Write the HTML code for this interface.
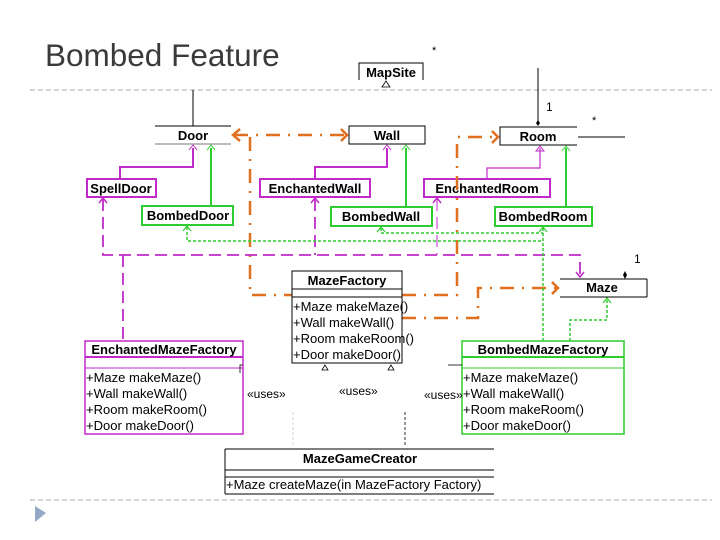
<!DOCTYPE html>
<html><head><meta charset="utf-8"><style>
html,body{margin:0;padding:0;background:#fff;}
svg{display:block;font-family:"Liberation Sans",Arial,sans-serif;}
.b{font-weight:bold;font-size:13px;}
.m{font-size:13px;}
</style></head><body>
<svg width="720" height="540" viewBox="0 0 720 540">
<text x="45" y="66" font-size="31.5" fill="#3a3a3a">Bombed Feature</text>
<line x1="30" y1="90" x2="712" y2="90" stroke="#aaa" stroke-dasharray="5,3"/>
<line x1="30" y1="500" x2="712" y2="500" stroke="#aaa" stroke-dasharray="5,3"/>
<polygon points="35,506 46,513 35,522" fill="#93a9c4"/>

<!-- MapSite -->
<text x="432" y="54" font-size="11">*</text>
<polyline points="359,80 359,63 423,63 423,80" fill="none" stroke="#000"/>
<text x="391" y="77" class="b" text-anchor="middle">MapSite</text>
<polygon points="386,81 382,87 390,87" fill="none" stroke="#000" stroke-width="0.8"/>

<!-- Door -->
<line x1="193" y1="90" x2="193" y2="126" stroke="#000"/>
<line x1="155" y1="126" x2="231" y2="126" stroke="#000"/>
<line x1="155" y1="144" x2="231" y2="144" stroke="#777"/>
<text x="193" y="140" class="b" text-anchor="middle">Door</text>
<!-- Wall -->
<rect x="349" y="126" width="76" height="18" fill="none" stroke="#000"/>
<text x="387" y="140" class="b" text-anchor="middle">Wall</text>
<!-- Room -->
<line x1="538" y1="68" x2="538" y2="123" stroke="#000"/>
<polygon points="538,120 540,123 538,126 536,123" fill="#000"/>
<text x="546" y="111" font-size="12">1</text>
<text x="592" y="124" font-size="11">*</text>
<polyline points="577,127 500,127 500,145 577,145" fill="none" stroke="#000"/>
<line x1="578" y1="137" x2="625" y2="137" stroke="#000"/>
<text x="538" y="141" class="b" text-anchor="middle">Room</text>

<!-- inheritance -->
<g fill="none" stroke-width="2">
<polyline points="120,179 120,167 193,167 193,148" stroke="#c02ac8"/>
<polyline points="211,206 211,148" stroke="#2ecc2e"/>
<polyline points="315,179 315,167 387,167 387,148" stroke="#c02ac8"/>
<polyline points="406,207 406,148" stroke="#2ecc2e"/>
<polyline points="487,179 487,168 540,168 540,148" stroke="#c02ac8" stroke-width="1.2"/>
<polyline points="566,207 566,148" stroke="#2ecc2e"/>
</g>
<g fill="none" stroke-width="1">
<polyline points="189,150 193,145 197,150" stroke="#c02ac8"/>
<polyline points="207,150 211,145 215,150" stroke="#2ecc2e"/>
<polyline points="383,150 387,145 391,150" stroke="#c02ac8"/>
<polyline points="402,150 406,145 410,150" stroke="#2ecc2e"/>
<polygon points="536,151 540,146 544,151" stroke="#c02ac8"/>
<polyline points="562,151 566,146 570,151" stroke="#2ecc2e"/>
</g>

<!-- subclass boxes -->
<g fill="#fff" stroke-width="2">
<rect x="87" y="179" width="69" height="18" stroke="#c02ac8"/>
<rect x="142" y="206" width="91" height="19" stroke="#2ecc2e"/>
<rect x="260" y="179" width="110" height="18" stroke="#c02ac8"/>
<rect x="331" y="207" width="101" height="19" stroke="#2ecc2e"/>
<rect x="424" y="179" width="126" height="18" stroke="#c02ac8"/>
<rect x="495" y="207" width="97" height="19" stroke="#2ecc2e"/>
</g>
<text x="121" y="193" class="b" text-anchor="middle">SpellDoor</text>
<text x="188" y="220" class="b" text-anchor="middle">BombedDoor</text>
<text x="315" y="193" class="b" text-anchor="middle">EnchantedWall</text>
<text x="381" y="221" class="b" text-anchor="middle">BombedWall</text>
<text x="487" y="193" class="b" text-anchor="middle">EnchantedRoom</text>
<text x="543" y="221" class="b" text-anchor="middle">BombedRoom</text>

<!-- orange dash-dot -->
<g fill="none" stroke="#e07020" stroke-width="2.5" stroke-dasharray="14,8,2,8">
<line x1="234" y1="135" x2="346" y2="135"/>
<polyline points="250,137 250,295 292,295"/>
<polyline points="402,295 457,295 457,137 496,137"/>
<polyline points="402,318 478,318 478,288 556,288"/>
</g>
<g fill="none" stroke="#e07020" stroke-width="2.5">
<polyline points="240,129 233,135 240,141"/>
<polyline points="341,129 347,135 341,141"/>
<polyline points="492,131 498,137 492,143"/>
<polyline points="552,282 558,288 552,294"/>
</g>

<!-- magenta dashed -->
<g fill="none" stroke="#c02ac8" stroke-width="1.8" stroke-dasharray="12,6">
<polyline points="103,199 103,255 580,255 580,276"/>
<line x1="123" y1="255" x2="123" y2="341"/>
<line x1="315" y1="199" x2="315" y2="255"/>
<line x1="437" y1="199" x2="437" y2="255" stroke-width="1"/>
</g>
<g fill="none" stroke="#c02ac8" stroke-width="1.5">
<polyline points="99,203 103,198 107,203"/>
<polyline points="311,203 315,198 319,203"/>
<polyline points="433,203 437,198 441,203"/>
<polyline points="576,272 580,277 584,272"/>
</g>

<!-- green dotted -->
<g fill="none" stroke="#2ecc2e" stroke-width="1.5" stroke-dasharray="3,2">
<polyline points="187,227 187,241 543,241"/>
<polyline points="381,228 381,233 543,233"/>
<polyline points="543,228 543,341"/>
<polyline points="570,341 570,320 607,320 607,299"/>
</g>
<g fill="none" stroke="#2ecc2e" stroke-width="1.2">
<polyline points="183,231 187,226 191,231"/>
<polyline points="377,232 381,227 385,232"/>
<polyline points="539,232 543,227 547,232"/>
<polyline points="603,303 607,298 611,303"/>
</g>

<!-- Maze -->
<line x1="560" y1="279" x2="647" y2="279" stroke="#000"/>
<line x1="560" y1="297" x2="647" y2="297" stroke="#000"/>
<line x1="647" y1="279" x2="647" y2="297" stroke="#000"/>
<polygon points="625,271 627,275 625,279 623,275" fill="#000"/>
<text x="634" y="263" font-size="12">1</text>
<text x="602" y="292" class="b" text-anchor="middle">Maze</text>

<!-- MazeFactory -->
<rect x="292" y="271" width="110" height="92" fill="#fff" stroke="#000"/>
<line x1="292" y1="289" x2="402" y2="289" stroke="#000"/>
<line x1="292" y1="297" x2="402" y2="297" stroke="#000"/>
<text x="347" y="285" class="b" text-anchor="middle">MazeFactory</text>
<text x="293" y="311" class="m">+Maze makeMaze()</text>
<text x="293" y="327" class="m">+Wall makeWall()</text>
<text x="293" y="343" class="m">+Room makeRoom()</text>
<text x="293" y="359" class="m">+Door makeDoor()</text>
<polygon points="325,365 322,370 328,370" fill="none" stroke="#000" stroke-width="0.8"/>
<polygon points="391,365 388,370 394,370" fill="none" stroke="#000" stroke-width="0.8"/>

<!-- EnchantedMazeFactory -->
<rect x="85" y="341" width="158" height="93" fill="#fff" stroke="#c02ac8" stroke-width="1.5"/>
<line x1="85" y1="357" x2="243" y2="357" stroke="#c02ac8" stroke-width="2"/>
<line x1="85" y1="368" x2="243" y2="368" stroke="#c02ac8"/>
<text x="164" y="354" class="b" text-anchor="middle">EnchantedMazeFactory</text>
<text x="86" y="382" class="m">+Maze makeMaze()</text>
<text x="86" y="398" class="m">+Wall makeWall()</text>
<text x="86" y="414" class="m">+Room makeRoom()</text>
<text x="86" y="430" class="m">+Door makeDoor()</text>
<polyline points="243,365 240,365 240,373" fill="none" stroke="#000" stroke-width="0.8"/>

<!-- BombedMazeFactory -->
<rect x="462" y="341" width="162" height="93" fill="#fff" stroke="#2ecc2e" stroke-width="1.5"/>
<line x1="462" y1="357" x2="624" y2="357" stroke="#2ecc2e" stroke-width="2"/>
<line x1="462" y1="368" x2="624" y2="368" stroke="#2ecc2e"/>
<text x="543" y="354" class="b" text-anchor="middle">BombedMazeFactory</text>
<text x="463" y="382" class="m">+Maze makeMaze()</text>
<text x="463" y="398" class="m">+Wall makeWall()</text>
<text x="463" y="414" class="m">+Room makeRoom()</text>
<text x="463" y="430" class="m">+Door makeDoor()</text>
<line x1="448" y1="365" x2="462" y2="365" stroke="#000" stroke-width="0.8"/>

<text x="247" y="398" font-size="12">«uses»</text>
<text x="339" y="395" font-size="12">«uses»</text>
<text x="424" y="399" font-size="12">«uses»</text>
<line x1="405" y1="412" x2="405" y2="447" stroke="#000" stroke-dasharray="3,2" stroke-width="0.8"/>
<line x1="293" y1="412" x2="293" y2="447" stroke="#ccc" stroke-dasharray="3,2" stroke-width="0.8"/>

<!-- MazeGameCreator -->
<line x1="225" y1="449" x2="494" y2="449" stroke="#000"/>
<line x1="225" y1="470" x2="494" y2="470" stroke="#000"/>
<line x1="225" y1="477" x2="494" y2="477" stroke="#000"/>
<line x1="225" y1="494" x2="494" y2="494" stroke="#000"/>
<line x1="225" y1="449" x2="225" y2="494" stroke="#000"/>
<text x="360" y="463" class="b" text-anchor="middle">MazeGameCreator</text>
<text x="226" y="489" class="m">+Maze createMaze(in MazeFactory Factory)</text>
</svg>
</body></html>
